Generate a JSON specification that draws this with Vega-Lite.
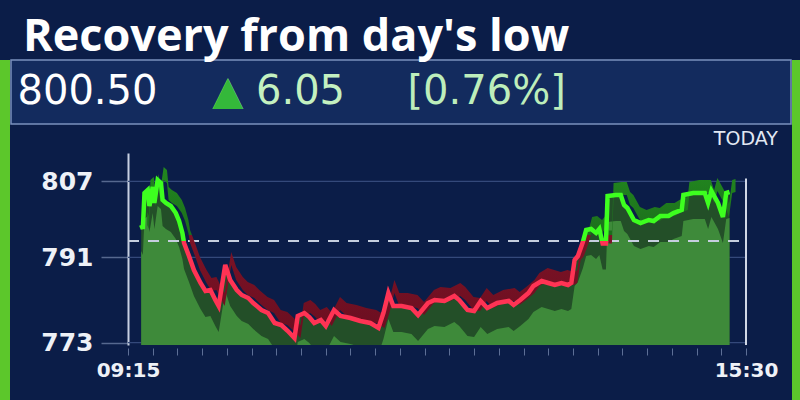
{
  "$schema": "https://vega.github.io/schema/vega-lite/v6.json",
  "background": "#0b1d48",
  "padding": {"left": 0, "right": 0, "top": 14, "bottom": 0},
  "config": {"view": {"stroke": null}},
  "datasets": {
    "header": [
      {"item": "price", "label": "800.50"},
      {"item": "change", "label": "▲ 6.05", "arrow": "▲"},
      {"item": "pct", "label": "[0.76%]"}
    ],
    "gridlines": [
      {"g": 773, "t0": "2024-01-01T09:15:00Z", "t1": "2024-01-01T15:30:00Z"},
      {"g": 791, "t0": "2024-01-01T09:15:00Z", "t1": "2024-01-01T15:30:00Z"},
      {"g": 807, "t0": "2024-01-01T09:15:00Z", "t1": "2024-01-01T15:30:00Z"}
    ],
    "prevclose": [{"p": 794.45, "t0": "2024-01-01T09:15:00Z", "t1": "2024-01-01T15:30:00Z"}],
    "now": [{"tn": "2024-01-01T15:30:00Z", "hi": 807.6, "lo": 772.5}],
    "prices": [
      {"t": "2024-01-01T09:23:00Z", "v": 797.81},
      {"t": "2024-01-01T09:24:00Z", "v": 796.97},
      {"t": "2024-01-01T09:25:00Z", "v": 804.56},
      {"t": "2024-01-01T09:27:00Z", "v": 805.20},
      {"t": "2024-01-01T09:28:00Z", "v": 801.82},
      {"t": "2024-01-01T09:30:00Z", "v": 805.83},
      {"t": "2024-01-01T09:31:00Z", "v": 802.45},
      {"t": "2024-01-01T09:33:00Z", "v": 807.30},
      {"t": "2024-01-01T09:35:00Z", "v": 806.67},
      {"t": "2024-01-01T09:36:00Z", "v": 803.09},
      {"t": "2024-01-01T09:38:00Z", "v": 802.45},
      {"t": "2024-01-01T09:41:00Z", "v": 801.82},
      {"t": "2024-01-01T09:44:00Z", "v": 800.34},
      {"t": "2024-01-01T09:46:00Z", "v": 798.66},
      {"t": "2024-01-01T09:48:00Z", "v": 796.13},
      {"t": "2024-01-01T09:49:00Z", "v": 794.02},
      {"t": "2024-01-01T09:52:00Z", "v": 791.27},
      {"t": "2024-01-01T09:55:00Z", "v": 788.32},
      {"t": "2024-01-01T09:59:00Z", "v": 785.58},
      {"t": "2024-01-01T10:02:00Z", "v": 783.89},
      {"t": "2024-01-01T10:05:00Z", "v": 784.10},
      {"t": "2024-01-01T10:08:00Z", "v": 781.99},
      {"t": "2024-01-01T10:10:00Z", "v": 780.73},
      {"t": "2024-01-01T10:11:00Z", "v": 782.84},
      {"t": "2024-01-01T10:14:00Z", "v": 789.38},
      {"t": "2024-01-01T10:17:00Z", "v": 786.21},
      {"t": "2024-01-01T10:21:00Z", "v": 784.10},
      {"t": "2024-01-01T10:24:00Z", "v": 783.05},
      {"t": "2024-01-01T10:28:00Z", "v": 782.41},
      {"t": "2024-01-01T10:31:00Z", "v": 781.36},
      {"t": "2024-01-01T10:36:00Z", "v": 779.88},
      {"t": "2024-01-01T10:40:00Z", "v": 779.25},
      {"t": "2024-01-01T10:44:00Z", "v": 777.14},
      {"t": "2024-01-01T10:48:00Z", "v": 776.72},
      {"t": "2024-01-01T10:52:00Z", "v": 775.45},
      {"t": "2024-01-01T10:56:00Z", "v": 773.98},
      {"t": "2024-01-01T10:58:00Z", "v": 778.62},
      {"t": "2024-01-01T11:02:00Z", "v": 779.25},
      {"t": "2024-01-01T11:05:00Z", "v": 778.41},
      {"t": "2024-01-01T11:08:00Z", "v": 777.14},
      {"t": "2024-01-01T11:12:00Z", "v": 777.77},
      {"t": "2024-01-01T11:15:00Z", "v": 776.51},
      {"t": "2024-01-01T11:20:00Z", "v": 779.88},
      {"t": "2024-01-01T11:24:00Z", "v": 778.62},
      {"t": "2024-01-01T11:30:00Z", "v": 778.20},
      {"t": "2024-01-01T11:36:00Z", "v": 777.56},
      {"t": "2024-01-01T11:42:00Z", "v": 777.14},
      {"t": "2024-01-01T11:47:00Z", "v": 776.09},
      {"t": "2024-01-01T11:50:00Z", "v": 779.25},
      {"t": "2024-01-01T11:53:00Z", "v": 783.47},
      {"t": "2024-01-01T11:56:00Z", "v": 780.73},
      {"t": "2024-01-01T12:01:00Z", "v": 780.73},
      {"t": "2024-01-01T12:07:00Z", "v": 780.30},
      {"t": "2024-01-01T12:11:00Z", "v": 778.83},
      {"t": "2024-01-01T12:17:00Z", "v": 781.36},
      {"t": "2024-01-01T12:21:00Z", "v": 781.99},
      {"t": "2024-01-01T12:27:00Z", "v": 781.78},
      {"t": "2024-01-01T12:33:00Z", "v": 782.84},
      {"t": "2024-01-01T12:36:00Z", "v": 781.99},
      {"t": "2024-01-01T12:41:00Z", "v": 779.88},
      {"t": "2024-01-01T12:45:00Z", "v": 779.67},
      {"t": "2024-01-01T12:49:00Z", "v": 781.78},
      {"t": "2024-01-01T12:53:00Z", "v": 780.30},
      {"t": "2024-01-01T12:59:00Z", "v": 781.36},
      {"t": "2024-01-01T13:06:00Z", "v": 781.78},
      {"t": "2024-01-01T13:09:00Z", "v": 780.94},
      {"t": "2024-01-01T13:13:00Z", "v": 781.99},
      {"t": "2024-01-01T13:18:00Z", "v": 783.47},
      {"t": "2024-01-01T13:21:00Z", "v": 784.95},
      {"t": "2024-01-01T13:26:00Z", "v": 786.00},
      {"t": "2024-01-01T13:30:00Z", "v": 785.58},
      {"t": "2024-01-01T13:34:00Z", "v": 785.16},
      {"t": "2024-01-01T13:38:00Z", "v": 785.58},
      {"t": "2024-01-01T13:42:00Z", "v": 785.16},
      {"t": "2024-01-01T13:44:00Z", "v": 785.58},
      {"t": "2024-01-01T13:46:00Z", "v": 790.43},
      {"t": "2024-01-01T13:48:00Z", "v": 791.27},
      {"t": "2024-01-01T13:51:00Z", "v": 794.20},
      {"t": "2024-01-01T13:53:00Z", "v": 796.76},
      {"t": "2024-01-01T13:56:00Z", "v": 796.97},
      {"t": "2024-01-01T13:59:00Z", "v": 796.13},
      {"t": "2024-01-01T14:01:00Z", "v": 796.97},
      {"t": "2024-01-01T14:03:00Z", "v": 793.90},
      {"t": "2024-01-01T14:05:00Z", "v": 793.90},
      {"t": "2024-01-01T14:06:00Z", "v": 803.93},
      {"t": "2024-01-01T14:11:00Z", "v": 804.14},
      {"t": "2024-01-01T14:14:00Z", "v": 804.14},
      {"t": "2024-01-01T14:16:00Z", "v": 802.03},
      {"t": "2024-01-01T14:18:00Z", "v": 801.40},
      {"t": "2024-01-01T14:22:00Z", "v": 798.87},
      {"t": "2024-01-01T14:26:00Z", "v": 798.23},
      {"t": "2024-01-01T14:31:00Z", "v": 798.87},
      {"t": "2024-01-01T14:34:00Z", "v": 798.66},
      {"t": "2024-01-01T14:38:00Z", "v": 799.71},
      {"t": "2024-01-01T14:43:00Z", "v": 799.71},
      {"t": "2024-01-01T14:46:00Z", "v": 800.34},
      {"t": "2024-01-01T14:51:00Z", "v": 800.98},
      {"t": "2024-01-01T14:52:00Z", "v": 804.14},
      {"t": "2024-01-01T14:58:00Z", "v": 804.56},
      {"t": "2024-01-01T15:05:00Z", "v": 804.56},
      {"t": "2024-01-01T15:07:00Z", "v": 802.45},
      {"t": "2024-01-01T15:09:00Z", "v": 804.98},
      {"t": "2024-01-01T15:13:00Z", "v": 802.45},
      {"t": "2024-01-01T15:16:00Z", "v": 799.50},
      {"t": "2024-01-01T15:18:00Z", "v": 804.56},
      {"t": "2024-01-01T15:20:00Z", "v": 804.77}
    ]
  },
  "concat": [
    {
      "width": 10,
      "height": 400,
      "view": {"fill": "#5cc72b", "stroke": null},
      "data": {"values": [{"a": 1}]},
      "mark": {"type": "point", "opacity": 0}
    },
    {
      "vconcat": [
        {
          "width": 780,
          "height": 64,
          "view": {"fill": "#132b5e", "stroke": "#7b91bd", "strokeWidth": 1.5},
          "title": {"text": "Recovery from day's low", "anchor": "start", "frame": "group", "dx": 12, "offset": 0, "font": "Open Sans", "fontSize": 45, "fontWeight": "bold", "color": "#ffffff"},
          "data": {"name": "header"},
          "layer": [
            {
              "mark": {"type": "text", "align": "left", "baseline": "middle", "font": "DejaVu Sans", "fontSize": 40},
              "encoding": {
                "x": {"field": "item", "type": "nominal", "axis": null, "scale": {"type": "point", "domain": ["price", "change", "pct"], "padding": 1, "align": 0.0167}},
                "text": {"field": "label"},
                "color": {"field": "item", "type": "nominal", "legend": null, "scale": {"domain": ["price", "change", "pct"], "range": ["#ffffff", "#c4f1c0", "#bdeebb"]}}
              }
            },
            {
              "transform": [{"filter": "datum.arrow"}],
              "mark": {"type": "text", "align": "left", "baseline": "middle", "font": "DejaVu Sans", "fontSize": 40, "color": "#34b83a"},
              "encoding": {
                "x": {"field": "item", "type": "nominal", "axis": null},
                "text": {"field": "arrow"}
              }
            }
          ]
        },
        {
          "width": 735,
          "height": 192,
          "title": {"text": "TODAY", "anchor": "end", "frame": "bounds", "offset": 4, "font": "DejaVu Sans", "fontSize": 19, "fontWeight": "normal", "color": "#e2e8f3"},
          "data": {"name": "prices"},
          "encoding": {
            "x": {
              "field": "t", "type": "temporal",
              "scale": {"type": "utc", "domain": [1704096240000, 1704123000000]},
              "axis": {
                "title": null, "offset": 3, "format": "%H:%M", "domain": false,
                "values": [1704100500000, 1704101400000, 1704102300000, 1704103200000, 1704104100000, 1704105000000, 1704105900000, 1704106800000, 1704107700000, 1704108600000, 1704109500000, 1704110400000, 1704111300000, 1704112200000, 1704113100000, 1704114000000, 1704114900000, 1704115800000, 1704116700000, 1704117600000, 1704118500000, 1704119400000, 1704120300000, 1704121200000, 1704122100000, 1704123000000],
                "labelExpr": "((utchours(datum.value) == 9 && utcminutes(datum.value) == 15) || (utchours(datum.value) == 15 && utcminutes(datum.value) == 30)) ? datum.label : ''",
                "labelFont": "DejaVu Sans", "labelFontWeight": "bold", "labelFontSize": 20, "labelColor": "#eef1f7",
                "labelPadding": 5, "labelFlush": false, "labelOverlap": false,
                "tickSize": 7, "tickColor": "#5d6f96", "grid": false
              }
            },
            "y": {
              "field": "v", "type": "quantitative",
              "scale": {"domain": [772.5, 813], "zero": false, "nice": false},
              "axis": {
                "title": null, "values": [773, 791, 807], "offset": -117,
                "labelFont": "DejaVu Sans", "labelFontWeight": "bold", "labelFontSize": 25, "labelColor": "#eef1f7",
                "labelPadding": 8, "labelBaseline": "middle",
                "tickSize": 27, "tickColor": "#56688f", "tickWidth": 1.5,
                "domainColor": "#c7d0e2", "domainWidth": 2, "grid": false
              }
            }
          },
          "layer": [
            {
              "data": {"name": "gridlines"},
              "mark": {"type": "rule", "color": "#34497a", "strokeWidth": 1.2},
              "encoding": {
                "x": {"field": "t0", "type": "temporal", "title": null},
                "x2": {"field": "t1"},
                "y": {"field": "g", "type": "quantitative", "title": null}
              }
            },
            {
              "mark": {"type": "area", "color": "#234f28", "clip": true},
              "encoding": {"y2": {"datum": 772.5}}
            },
            {
              "mark": {"type": "area", "color": "#3e8a3a", "yOffset": 26, "clip": true},
              "encoding": {"y2": {"datum": 772.5}}
            },
            {
              "data": {"name": "prevclose"},
              "mark": {"type": "rule", "strokeDash": [11, 9], "color": "#c5cede", "strokeWidth": 2},
              "encoding": {
                "x": {"field": "t0", "type": "temporal", "title": null},
                "x2": {"field": "t1"},
                "y": {"field": "p", "type": "quantitative", "title": null}
              }
            },
            {
              "data": {"name": "now"},
              "mark": {"type": "rule", "color": "#d0d7e6", "strokeWidth": 2},
              "encoding": {
                "x": {"field": "tn", "type": "temporal", "title": null},
                "y": {"field": "hi", "type": "quantitative", "title": null},
                "y2": {"field": "lo"}
              }
            },
            {
              "mark": {
                "type": "area", "yOffset": -13, "xOffset": 6,
                "fill": {"gradient": "linear", "x1": 0, "y1": 0, "x2": 0, "y2": 1, "stops": [
                  {"offset": 0, "color": "#22881f"}, {"offset": 0.397, "color": "#1c6e1c"},
                  {"offset": 0.397, "color": "#7d1326"}, {"offset": 1, "color": "#6a0e20"}]}
              },
              "encoding": {"y2": {"field": "v"}}
            },
            {
              "mark": {
                "type": "line", "strokeWidth": 4.5,
                "stroke": {"gradient": "linear", "x1": 0, "y1": 0, "x2": 0, "y2": 1, "stops": [
                  {"offset": 0, "color": "#3dff1f"}, {"offset": 0.3857, "color": "#3dff1f"},
                  {"offset": 0.3857, "color": "#ff3354"}, {"offset": 1, "color": "#ff3354"}]}
              }
            }
          ]
        }
      ],
      "spacing": 5
    },
    {
      "width": 10,
      "height": 400,
      "view": {"fill": "#5cc72b", "stroke": null},
      "data": {"values": [{"a": 1}]},
      "mark": {"type": "point", "opacity": 0}
    }
  ],
  "columns": 3,
  "align": "each",
  "spacing": 0
}
